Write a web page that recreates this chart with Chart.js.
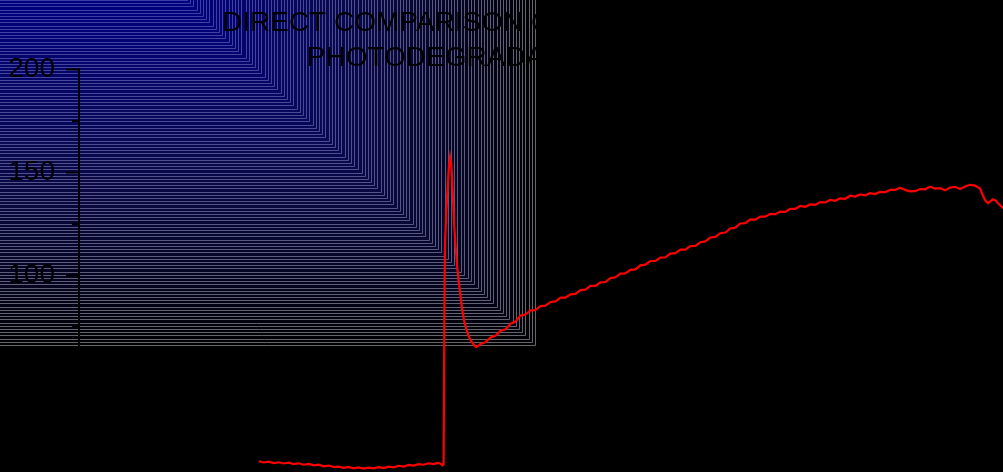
<!DOCTYPE html>
<html>
<head>
<meta charset="utf-8">
<script src="https://cdn.jsdelivr.net/npm/chart.js@4.4.1/dist/chart.umd.min.js"></script>
<style>
html,body{margin:0;padding:0;background:#000;overflow:hidden}
#wrap{width:1003px;height:472px;position:relative}
</style>
</head>
<body>
<div id="wrap"><canvas id="c"></canvas></div>
<script>
const titleLines = ['DIRECT COMPARISON OF REFLECTANCE', 'PHOTODEGRADATION TRIAL'];
const yTickValues = [50, 100, 150, 200];
const yMinorTickValues = [75, 125, 175];

const timeValues = [
  360,370,380,390,400,410,420,430,440,450,460,470,480,490,500,510,520,530,540,550,
  560,570,580,590,600,610,620,630,640,650,660,670,680,690,700,710,718,724,728,730,
  732,733,735,737,739,741,743,745,747,749,751,754,757,760,764,767,771,775,780,785,790,795,798,
  804,814,824,834,844,854,864,874,884,894,904,914,924,934,944,954,964,974,984,994,
  1004,1014,1024,1034,1044,1054,1064,1074,1084,1094,1104,1114,1124,1134,1144,1154,1164,1174,1184,1194,
  1204,1214,1224,1234,1244,1254,1264,1274,1284,1294,1304,1314,1324,1334,1344,1354,1364,1374,1384,1394,
  1404,1414,1424,1434,1444,1454,1464,1474,1484,1494,1504,1514,1524,1534,1544,1554,1564,1574,1584,1594,
  1604,1614,1624,1634,1644,1654,1664,1674,1684,1694,1704,1714,1724,1734,1744,1754,1764,1774,1784,1794,
  1804,1810,1814,1820,1824,1830,1836,1840,1846,1850
];

const signalValues = [
  9.6,9.0,9.4,8.7,9.1,8.5,8.9,8.2,8.6,7.9,8.3,7.6,7.9,7.1,7.5,6.8,7.0,6.4,6.8,6.1,
  6.6,6.0,6.5,6.1,6.7,6.3,7.0,6.6,7.4,7.0,7.8,7.5,8.2,7.9,8.6,8.2,8.8,8.4,7.6,8.0,
  100,117,128,138,146.5,153.5,157.3,154.5,147,136,125,114,104.5,97.5,89.5,83.5,78,74,70.5,68,66.3,65.0,65.4,
  66.5,67.4,69.7,70.5,72.9,73.7,76.3,77.4,80.3,80.8,82.8,83.0,84.9,85.1,86.9,87.2,89.0,89.0,90.6,90.8,
  92.7,92.9,94.7,94.7,96.4,96.6,98.5,98.9,100.7,100.8,102.5,102.7,104.7,105.0,106.8,106.8,108.4,108.6,110.4,110.6,
  112.3,112.3,114.0,114.1,115.9,116.3,118.2,118.5,120.3,120.6,122.6,123.0,125.0,125.2,127.0,126.9,128.4,128.3,129.7,129.5,
  130.8,130.6,132.1,132.1,133.5,133.1,134.3,134.0,135.4,135.2,136.4,136.0,137.2,137.0,138.5,138.1,139.1,138.7,139.7,139.3,
  140.3,140.2,141.3,141.3,142.4,141.3,140.6,140.7,141.7,141.6,142.9,141.9,142.2,141.1,142.5,142.8,141.7,143.0,143.8,143.4,
  142.0,138.5,136.4,134.8,135.6,136.7,136.0,134.8,133.5,132.4
];

const FONT = '"Liberation Sans", Arial, Helvetica, sans-serif';

const backdropPlugin = {
  id: 'backdrop',
  beforeDraw(chart) {
    const ctx = chart.ctx;
    ctx.save();
    ctx.fillStyle = '#000';
    ctx.fillRect(0, 0, chart.width, chart.height);
    const n = 108;
    for (let k = n; k >= 0; k--) {
      const d = Math.round(k * 345 / n);
      const t = d / 345;
      const cx = Math.round(187 + d * 1.009);
      const fb = Math.round(128 * Math.pow(1 - t, 0.8));
      const fr = Math.round(8 * Math.sin(Math.PI * t));
      ctx.fillStyle = 'rgb(' + fr + ',' + fr + ',' + fb + ')';
      ctx.fillRect(0, 0, cx, d);
      const lr = Math.round(60 + 42 * t), lb = Math.round(168 - 62 * t);
      ctx.strokeStyle = 'rgb(' + lr + ',' + lr + ',' + lb + ')';
      ctx.lineWidth = 1;
      ctx.beginPath();
      ctx.moveTo(0, d + 0.5);
      ctx.lineTo(cx + 0.5, d + 0.5);
      ctx.lineTo(cx + 0.5, 0);
      ctx.stroke();
    }
    ctx.restore();
  }
};

const minorTicksPlugin = {
  id: 'minorTicks',
  afterDraw(chart) {
    const ys = chart.scales.y;
    const ctx = chart.ctx;
    ctx.save();
    ctx.strokeStyle = '#000';
    ctx.lineWidth = 2;
    yMinorTickValues.forEach(v => {
      const py = Math.round(ys.getPixelForValue(v));
      ctx.beginPath();
      ctx.moveTo(ys.right - 7, py);
      ctx.lineTo(ys.right, py);
      ctx.stroke();
    });
    ctx.restore();
  }
};

new Chart(document.getElementById('c'), {
  type: 'line',
  data: {
    datasets: [{
      data: timeValues.map((x, i) => ({ x: x, y: signalValues[i] })),
      borderColor: '#ff0000',
      borderWidth: 2.2,
      pointRadius: 0,
      tension: 0,
      fill: false
    }]
  },
  options: {
    responsive: true,
    maintainAspectRatio: false,
    animation: false,
    devicePixelRatio: 1,
    layout: { padding: 0, autoPadding: false },
    plugins: {
      legend: { display: false },
      tooltip: { enabled: false },
      title: {
        display: true,
        text: titleLines,
        color: '#000',
        font: { family: FONT, size: 28, weight: 'normal', lineHeight: 35 / 28 },
        padding: { top: 5.5, bottom: -6.5 }
      }
    },
    scales: {
      x: { type: 'linear', min: 0, max: 1850, display: false },
      y: {
        min: 4.37,
        max: 200,
        afterBuildTicks: s => { s.ticks = yTickValues.map(v => ({ value: v })); },
        afterFit: s => { s.width = 79; s.paddingTop = 0; s.paddingBottom = 0; },
        ticks: { color: '#000', font: { family: FONT, size: 28 }, padding: 11, autoSkip: false },
        grid: { drawOnChartArea: false, tickLength: 13, tickWidth: 2, tickColor: '#000', color: '#000' },
        border: { display: true, color: '#000', width: 2 }
      }
    }
  },
  plugins: [backdropPlugin, minorTicksPlugin]
});
</script>
</body>
</html>
